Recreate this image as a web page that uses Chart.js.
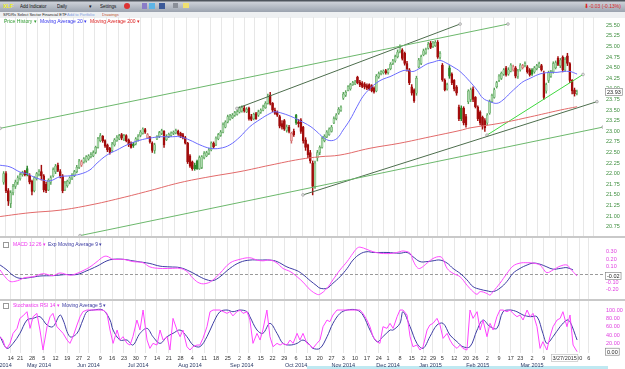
<!DOCTYPE html>
<html>
<head>
<meta charset="utf-8">
<script src="https://cdn.jsdelivr.net/npm/chart.js@4.4.1/dist/chart.umd.min.js"></script>
<style>
  body { margin:0; width:625px; height:369px; overflow:hidden; background:#fff; position:relative;
         font-family:"Liberation Sans", Arial, sans-serif; }
  .abs { position:absolute; white-space:nowrap; line-height:1; transform-origin:0 0; }
  .s4 { font-size:8px; transform:scale(0.5); }
  .s45 { font-size:9px; transform:scale(0.5); }
  .s5 { font-size:10px; transform:scale(0.5); }
  .s55 { font-size:11px; transform:scale(0.5); }
  #bar { left:0; top:0; width:625px; height:12px;
         background:linear-gradient(#4e545c 0, #4e545c 1px, #cdd1d8 2px, #9ba3af 12px); }
  #sub { left:0; top:12px; width:625px; height:6px; background:#eef0f2; }
  canvas { position:absolute; left:0; }
  .sep { left:0; width:625px; height:2px; background:#c9c9c9; }
  .xbox { width:4px; height:4px; border:0.5px solid #999; }
</style>
</head>
<body>
<div class="abs" id="bar"></div>
<div class="abs s55" style="left:3px;top:3px;font-weight:bold;color:#f2f21c">XLF</div>
<div class="abs s45" style="left:20px;top:3.5px;color:#111">Add Indicator</div>
<div class="abs s45" style="left:57px;top:3.5px;color:#111">Daily</div>
<div class="abs s45" style="left:89px;top:3.5px;color:#111">&#9662;</div>
<div class="abs s45" style="left:100px;top:3.5px;color:#111">Settings</div>
<div class="abs" style="left:124px;top:3px;width:6px;height:6px;border-radius:3px;background:#d33"></div>
<div class="abs" style="left:142px;top:3px;width:5px;height:6px;background:#8a7cc8"></div>
<div class="abs" style="left:149px;top:3px;width:6px;height:6px;background:#5db4e6"></div>
<div class="abs" style="left:159px;top:3px;width:6px;height:6px;background:#3b5998"></div>
<div class="abs" style="left:173px;top:3px;width:5px;height:5px;background:#8a8f98"></div>
<div class="abs" style="left:183px;top:3px;width:6px;height:5px;background:#efe070"></div>
<div class="abs s55" style="left:584px;top:3px;color:#d22">&#11015;</div>
<div class="abs s5" style="left:589px;top:3.5px;color:#d22">-0.03 (-0.13%)</div>
<div class="abs" id="sub"></div>
<div class="abs s4" style="left:3px;top:13px;color:#222">SPDRs Select Sector Financial ETF</div>
<div class="abs s4" style="left:67px;top:13px;color:#7f9fdf">Add to Portfolio</div>
<div class="abs s4" style="left:102px;top:13px;color:#c0502c">Drawings</div>

<canvas id="main" width="625" height="220" style="top:17px"></canvas>
<div class="abs sep" style="top:236px"></div>
<canvas id="macd" width="625" height="62" style="top:238px"></canvas>
<div class="abs sep" style="top:299px"></div>
<div class="abs" style="left:307px;top:366px;width:301px;height:3px;background:#bfe9f2"></div>
<canvas id="stoch" width="625" height="68" style="top:301px"></canvas>

<div class="abs s5" style="left:4px;top:19px;color:#2f9a2f">Price History &#9662;</div>
<div class="abs s5" style="left:40px;top:19px;color:#3535ee">Moving Average 20 &#9662;</div>
<div class="abs s5" style="left:90px;top:19px;color:#dd2222">Moving Average 200 &#9662;</div>
<div class="abs xbox" style="left:3px;top:241.5px"></div>
<div class="abs s5" style="left:13px;top:241.5px;color:#ee33ee">MACD 12 26 &#9662;</div>
<div class="abs s5" style="left:48px;top:241.5px;color:#3a3aa2">Exp Moving Average 9 &#9662;</div>
<div class="abs xbox" style="left:3px;top:303px"></div>
<div class="abs s5" style="left:13px;top:303px;color:#ee33ee">Stochastics RSI 14 &#9662;</div>
<div class="abs s5" style="left:62px;top:303px;color:#3a3aa2">Moving Average 5 &#9662;</div>

<script>
// trading-day index 0 = Mon 14 Apr 2014; candles run from day -3 to day 240 (27 Mar 2015)
var FIRST_DAY = -3;
var opens = [
  21.8,22.0,21.6,21.3,21.55,21.7,21.8,21.88,21.98,22.05,
  22.12,21.97,21.82,21.6,21.88,21.98,22.05,21.95,21.75,21.62,
  21.8,21.95,22.05,22.2,22.05,21.95,21.62,21.72,21.8,21.9,
  21.95,22.05,22.15,22.2,22.28,22.3,22.35,22.4,22.42,22.5,
  22.62,22.78,22.88,22.78,22.68,22.6,22.55,22.68,22.78,22.82,
  22.92,22.82,22.9,22.8,22.72,22.7,22.7,22.8,22.9,22.95,
  23.04,22.85,22.86,22.72,22.55,22.82,22.88,22.95,23.0,22.8,
  22.88,22.9,22.95,22.96,23.0,22.95,22.92,22.85,22.72,22.42,
  22.28,22.2,22.3,22.12,22.15,22.38,22.42,22.48,22.56,22.72,
  22.68,22.82,22.9,22.98,23.1,23.22,23.28,23.32,23.38,23.4,
  23.45,23.48,23.55,23.46,23.55,23.35,23.3,23.42,23.38,23.45,
  23.5,23.56,23.66,23.85,23.66,23.5,23.45,23.35,23.18,23.25,
  23.02,23.1,22.78,23.0,23.38,23.22,23.27,23.1,22.8,22.68,
  22.5,22.25,21.7,22.37,22.5,22.62,22.78,22.87,22.92,23.0,
  23.2,23.3,23.43,23.5,23.78,23.85,23.97,24.0,24.1,24.12,
  24.28,24.16,24.14,24.12,24.08,24.1,24.08,24.02,23.95,24.28,
  24.36,24.38,24.43,24.38,24.48,24.6,24.66,24.76,24.88,24.92,
  24.84,24.6,24.45,24.05,23.98,23.9,24.52,24.6,24.8,24.85,
  24.96,25.08,25.0,25.02,25.1,24.75,24.56,24.2,24.0,24.5,
  24.35,24.2,24.05,23.57,23.55,23.55,23.35,23.7,23.75,24.0,
  23.8,23.57,23.45,23.33,23.25,23.2,23.43,23.7,23.8,24.05,
  24.2,24.25,24.35,24.5,24.35,24.42,24.45,24.5,24.3,24.45,
  24.5,24.55,24.52,24.45,24.45,24.4,24.48,24.52,24.55,24.37,
  23.95,24.2,24.3,24.4,24.5,24.72,24.55,24.75,24.45,24.78,
  24.6,24.2,23.98,23.9
];
var highs = [
  22.05,22.05,21.65,21.6,21.75,21.85,21.95,22.02,22.06,22.08,
  22.18,22.0,21.85,21.93,22.03,22.1,22.2,21.98,21.8,21.88,
  21.95,22.14,22.22,22.25,22.1,21.98,21.82,21.85,21.93,22.0,
  22.08,22.2,22.34,22.32,22.38,22.43,22.45,22.5,22.54,22.65,
  22.86,22.95,22.9,22.8,22.7,22.62,22.74,22.83,22.9,22.93,
  22.95,22.93,22.92,22.82,22.75,22.74,22.85,22.92,23.02,23.08,
  23.07,22.95,22.88,22.75,22.72,22.9,23.0,23.05,23.02,22.92,
  22.96,22.99,23.01,23.05,23.03,22.98,22.95,22.88,22.74,22.45,
  22.3,22.25,22.32,22.42,22.43,22.52,22.53,22.6,22.75,22.75,
  22.87,22.95,23.02,23.2,23.25,23.38,23.4,23.42,23.47,23.5,
  23.58,23.6,23.6,23.56,23.57,23.4,23.43,23.45,23.5,23.53,
  23.62,23.7,23.88,23.92,23.68,23.55,23.48,23.38,23.25,23.28,
  23.15,23.14,22.98,23.05,23.4,23.28,23.3,23.12,22.85,22.7,
  22.55,22.3,22.3,22.55,22.66,22.87,22.92,23.02,23.08,23.14,
  23.34,23.42,23.56,23.6,23.92,23.96,24.08,24.13,24.18,24.2,
  24.3,24.2,24.17,24.15,24.12,24.12,24.1,24.05,24.34,24.4,
  24.43,24.45,24.46,24.48,24.62,24.7,24.8,24.92,25.04,24.95,
  24.87,24.65,24.48,24.1,24.0,24.3,24.72,24.8,24.94,24.96,
  25.1,25.12,25.12,25.14,25.14,24.88,24.6,24.24,24.14,24.55,
  24.38,24.22,24.08,23.62,23.6,23.58,23.4,23.98,24.02,24.05,
  23.82,23.6,23.48,23.36,23.3,23.42,23.74,23.88,24.02,24.18,
  24.34,24.4,24.48,24.53,24.5,24.6,24.56,24.53,24.46,24.6,
  24.58,24.64,24.55,24.48,24.48,24.53,24.58,24.63,24.58,24.42,
  24.14,24.42,24.44,24.64,24.66,24.76,24.72,24.78,24.74,24.84,
  24.62,24.22,24.02,23.97
];
var lows = [
  21.75,21.55,21.25,21.2,21.5,21.65,21.75,21.85,21.94,21.95,
  21.95,21.76,21.5,21.57,21.85,21.95,21.85,21.57,21.55,21.6,
  21.75,21.92,22.0,22.05,21.9,21.55,21.6,21.68,21.76,21.86,
  21.93,22.02,22.12,22.17,22.25,22.27,22.32,22.37,22.4,22.47,
  22.6,22.75,22.74,22.62,22.52,22.46,22.52,22.65,22.76,22.8,
  22.8,22.78,22.75,22.64,22.6,22.62,22.68,22.77,22.87,22.93,
  22.95,22.83,22.72,22.5,22.48,22.8,22.85,22.92,22.62,22.78,
  22.85,22.88,22.92,22.94,22.9,22.85,22.82,22.7,22.24,22.15,
  22.08,22.08,22.1,22.1,22.12,22.35,22.4,22.45,22.54,22.6,
  22.66,22.8,22.88,22.96,23.08,23.2,23.26,23.3,23.35,23.38,
  23.43,23.45,23.45,23.44,23.26,23.25,23.27,23.28,23.35,23.42,
  23.48,23.54,23.64,23.62,23.46,23.4,23.35,23.08,23.05,23.02,
  22.98,22.96,22.72,22.88,23.16,23.1,22.95,22.72,22.55,22.38,
  22.25,21.5,21.65,22.3,22.45,22.6,22.75,22.85,22.9,22.98,
  23.18,23.27,23.4,23.47,23.75,23.82,23.95,23.97,24.08,24.1,
  24.12,24.05,24.03,24.0,23.98,23.97,23.93,23.9,23.93,24.25,
  24.33,24.35,24.35,24.35,24.45,24.57,24.63,24.73,24.85,24.68,
  24.56,24.42,24.1,23.85,23.68,23.85,24.5,24.57,24.78,24.82,
  24.94,24.95,24.97,25.0,24.72,24.7,24.18,23.95,23.97,24.25,
  24.1,23.95,23.85,23.25,23.25,23.15,23.1,23.65,23.7,23.7,
  23.55,23.25,23.15,23.05,23.0,23.15,23.4,23.68,23.78,24.02,
  24.17,24.22,24.32,24.3,24.32,24.4,24.42,24.26,24.25,24.42,
  24.47,24.52,24.37,24.3,24.32,24.37,24.45,24.5,24.42,23.75,
  23.9,24.15,24.27,24.37,24.47,24.55,24.5,24.4,24.42,24.55,
  24.15,23.88,23.83,23.86
];
var closes = [
  22.0,21.6,21.35,21.55,21.7,21.8,21.9,21.98,22.02,21.98,
  21.98,21.8,21.58,21.9,22.0,22.05,21.95,21.62,21.6,21.85,
  21.9,22.1,22.18,22.08,21.95,21.6,21.78,21.82,21.9,21.97,
  22.05,22.15,22.3,22.28,22.35,22.4,22.42,22.45,22.5,22.62,
  22.82,22.9,22.78,22.65,22.56,22.5,22.7,22.8,22.86,22.9,
  22.84,22.9,22.78,22.68,22.62,22.66,22.82,22.88,22.98,23.05,
  22.98,22.92,22.75,22.55,22.68,22.88,22.97,23.02,22.68,22.88,
  22.93,22.96,22.98,23.02,22.93,22.88,22.85,22.72,22.28,22.18,
  22.12,22.12,22.12,22.38,22.4,22.48,22.5,22.56,22.72,22.64,
  22.84,22.92,22.98,23.15,23.22,23.35,23.36,23.38,23.44,23.46,
  23.55,23.56,23.48,23.52,23.3,23.28,23.4,23.3,23.46,23.5,
  23.58,23.66,23.82,23.66,23.5,23.42,23.38,23.12,23.1,23.05,
  23.1,23.0,22.95,22.92,23.2,23.18,23.0,22.78,22.62,22.45,
  22.3,21.7,22.25,22.5,22.62,22.82,22.88,22.98,23.05,23.1,
  23.3,23.38,23.52,23.57,23.88,23.92,24.05,24.1,24.15,24.16,
  24.15,24.1,24.06,24.04,24.02,24.0,23.96,23.93,24.3,24.36,
  24.4,24.42,24.38,24.45,24.58,24.66,24.76,24.87,24.98,24.72,
  24.6,24.48,24.15,23.9,23.72,24.25,24.68,24.76,24.9,24.92,
  25.05,24.98,25.08,25.1,24.75,24.84,24.22,23.98,24.1,24.3,
  24.15,24.0,23.9,23.3,23.3,23.2,23.15,23.95,23.98,23.75,
  23.58,23.3,23.2,23.12,23.08,23.38,23.7,23.85,23.98,24.15,
  24.3,24.37,24.45,24.33,24.45,24.56,24.52,24.3,24.42,24.56,
  24.55,24.6,24.4,24.33,24.35,24.5,24.55,24.6,24.45,23.8,
  24.1,24.38,24.4,24.6,24.62,24.58,24.68,24.45,24.7,24.6,
  24.2,23.95,23.88,23.93
];

var ma20Days = [-4.5,-0.3,3.9,6.9,9.5,13.7,16.7,20.9,25.1,29.4,33.6,36.6,40.8,45.1,49.3,54.8,59.0,63.3,67.5,71.8,
  76.0,80.2,84.5,88.7,92.9,97.2,101.4,105.7,109.9,112.0,115.4,119.7,122.6,126.9,129.8,132.4,135.3,138.3,140.9,143.8,
  146.8,149.3,152.3,155.3,157.8,160.8,163.8,166.3,168.0,170.5,173.5,176.5,179.0,182.0,185.0,187.5,190.5,194.7,197.7,200.2,
  203.2,206.1,208.7,211.7,214.6,217.2,220.2,223.2,225.6,228.6,231.6,234.1,237.1,240.1];
var ma20Vals = [22.2,22.16,22.04,22.0,21.93,21.85,21.83,21.93,21.95,21.99,22.09,22.25,22.44,22.56,22.68,22.79,22.84,22.87,22.87,22.87,
  22.79,22.68,22.6,22.6,22.68,22.87,23.11,23.28,23.42,23.46,23.42,23.33,23.25,23.12,22.99,22.86,22.78,22.83,23.03,23.27,
  23.58,23.82,24.01,24.15,24.23,24.29,24.37,24.43,24.44,24.41,24.49,24.59,24.63,24.67,24.6,24.52,24.41,24.17,23.97,23.78,
  23.7,23.66,23.74,23.9,24.05,24.17,24.25,24.33,24.37,24.39,24.39,24.41,24.41,24.35];
var ma200Days = [-4.5,8.2,20.9,33.6,46.3,59.0,71.8,84.5,97.2,109.9,122.6,131.1,139.6,152.3,165.0,177.8,190.5,194.7,207.4,220.2,232.9,240.1];
var ma200Vals = [20.99,21.08,21.14,21.26,21.42,21.6,21.79,21.93,22.05,22.2,22.34,22.4,22.44,22.6,22.72,22.87,23.02,23.08,23.19,23.34,23.5,23.58];

// hand-drawn trend lines: [start day, end day] and [start price, end price]
var upperChannelDays = [-4.5, 210.8], upperChannelPrices = [23.07, 25.53];
var lowerChannelDays = [29.4, 251.1], lowerChannelPrices = [20.54, 23.1];
var upperTrendDays = [95.9, 190.5], upperTrendPrices = [23.54, 25.53];
var lowerTrendDays = [123.9, 248.5], lowerTrendPrices = [21.5, 23.7];
var recentTrendDays = [201.9, 242.6], recentTrendPrices = [22.91, 24.34];

var macdDays = [-4.5,-2.4,-0.3,1.8,3.9,6.1,9.5,13.7,17.9,20.9,25.1,28.1,30.6,33.6,36.6,39.1,40.8,43.4,47.6,51.8,
  56.1,59.0,63.3,67.5,71.8,74.7,77.3,80.2,83.2,85.8,88.7,92.9,97.2,101.4,104.4,106.9,109.9,112.9,115.4,118.4,
  121.4,123.9,126.9,129.8,131.1,134.1,136.6,139.6,142.6,145.1,146.8,148.1,151.0,153.6,156.5,159.5,162.1,165.0,166.3,169.3,
  170.5,172.2,173.5,176.5,179.0,182.0,183.3,185.0,187.5,190.5,193.4,196.0,197.7,199.0,201.9,203.2,204.5,207.4,210.4,212.9,
  215.9,218.9,221.4,224.4,225.6,227.3,229.9,232.9,235.8,237.1,240.1];
var macdVals = [0.06,-0.03,-0.09,-0.09,-0.07,-0.04,-0.03,0.01,-0.015,0.02,-0.01,0.015,0.05,0.1,0.17,0.23,0.24,0.2,0.2,0.17,
  0.155,0.1,0.08,0.08,0.08,0.04,-0.05,-0.115,-0.115,-0.07,0.015,0.15,0.2,0.22,0.19,0.18,0.19,0.15,0.08,0.04,
  -0.03,-0.1,-0.2,-0.26,-0.26,-0.18,-0.07,0.06,0.17,0.28,0.345,0.36,0.33,0.3,0.28,0.275,0.28,0.3,0.31,0.28,
  0.19,0.095,0.08,0.15,0.21,0.235,0.2,0.08,0.015,-0.03,-0.14,-0.225,-0.26,-0.225,-0.25,-0.27,-0.225,-0.115,0.015,0.11,
  0.15,0.155,0.15,0.125,0.08,0.025,0.06,0.11,0.125,0.08,-0.02];
var signalDays = [-4.5,-1.6,0.9,3.9,8.2,12.4,17.9,23.9,28.1,32.3,36.6,40.8,43.4,47.6,51.8,56.1,59.0,63.3,67.5,71.8,
  76.0,80.2,83.2,85.8,88.7,92.9,97.2,101.4,105.7,109.9,112.9,117.1,121.4,123.9,126.9,129.8,131.1,134.1,136.6,139.6,
  142.6,145.1,148.1,151.0,153.6,159.5,165.0,168.0,170.5,173.5,176.5,179.0,182.0,185.0,187.5,190.5,193.4,196.0,199.0,201.9,
  204.5,207.4,210.4,212.9,215.9,218.9,221.4,224.4,227.3,229.9,232.9,235.8,238.4];
var signalVals = [0.125,0.06,-0.01,-0.05,-0.04,-0.02,-0.015,0,0,0.05,0.11,0.18,0.2,0.2,0.18,0.16,0.145,0.11,0.1,0.09,
  0.04,-0.03,-0.07,-0.08,-0.03,0.08,0.16,0.19,0.19,0.19,0.17,0.1,0.05,0.0,-0.08,-0.15,-0.18,-0.18,-0.115,-0.03,
  0.08,0.19,0.27,0.3,0.29,0.29,0.28,0.29,0.235,0.17,0.17,0.18,0.19,0.15,0.08,0.015,-0.07,-0.16,-0.195,-0.215,
  -0.225,-0.18,-0.09,0.015,0.08,0.125,0.15,0.135,0.1,0.07,0.08,0.09,0.06];
var macdZero = [0, 0];

var stochDays = [-4.5,-3.3,-2.4,-1.6,-0.3,1.0,2.7,3.9,5.2,6.9,8.2,9.5,11.1,12.4,13.7,15.4,16.7,17.9,19.6,20.9,
  22.2,23.9,25.1,26.4,28.1,29.4,30.6,32.3,33.6,36.6,39.1,40.8,42.1,43.4,45.1,46.3,47.6,49.3,50.6,51.8,
  53.5,54.8,56.1,57.8,59.0,60.3,62.0,63.3,64.6,66.3,67.5,68.8,70.5,71.8,73.0,74.7,76.0,77.3,79.0,80.2,
  81.5,83.2,84.5,85.8,88.7,91.7,92.9,94.2,95.9,97.2,98.5,100.2,101.4,102.7,104.4,105.7,106.9,108.6,109.9,111.2,
  112.9,114.2,115.4,117.1,118.4,119.7,121.4,122.6,123.9,125.6,126.9,128.1,129.8,131.1,132.4,134.1,135.3,136.6,138.3,148.1,
  149.3,151.0,152.3,153.6,155.3,156.5,157.8,159.5,160.8,162.1,163.8,165.0,166.3,168.0,169.3,170.5,172.2,173.5,174.8,176.5,
  177.7,179.0,180.7,182.0,183.3,185.0,186.2,187.5,189.2,190.5,191.7,193.4,194.7,196.0,197.7,199.0,200.2,201.9,203.2,204.5,
  206.1,207.4,208.7,210.4,211.7,212.9,214.6,215.9,217.2,218.9,220.2,221.4,223.1,224.4,225.6,227.3,228.6,229.9,231.6,232.9,
  234.1,235.8,237.1,238.4,240.1];
var stochK = [36,28,12,8,20,44,56,80,86,96,56,84,92,52,4,60,84,92,60,52,
  44,28,20,36,64,84,96,100,100,100,100,92,52,20,52,28,36,20,16,36,
  76,52,100,28,8,20,16,52,28,36,4,80,52,36,52,12,4,12,16,16,
  32,60,96,100,100,92,96,86,96,100,92,96,76,20,44,28,52,100,36,12,
  20,16,20,16,28,20,44,28,44,20,16,8,20,28,60,76,72,88,100,100,
  92,76,60,36,24,20,60,56,68,56,84,100,100,88,36,12,16,4,12,52,
  64,68,80,64,32,44,28,16,8,16,8,4,100,80,96,52,76,36,68,52,
  84,100,100,96,100,92,84,88,76,100,84,92,60,8,24,4,36,60,76,80,
  96,60,88,16,0];
var stochMaDays = [-4.5,-1.6,1.0,3.9,6.9,9.5,12.4,15.4,17.9,20.9,22.2,25.1,28.1,30.6,32.3,35.0,39.1,42.1,43.4,46.3,
  49.3,51.8,54.8,57.8,60.3,63.3,66.3,68.8,71.8,74.7,77.3,80.2,83.2,85.8,88.7,91.7,94.2,97.2,100.2,101.4,
  104.4,106.9,109.9,112.9,115.4,118.4,121.4,123.9,126.9,128.1,131.1,134.1,136.6,139.6,142.6,146.8,149.3,152.3,155.3,157.8,
  160.8,162.1,165.0,166.3,169.3,172.2,174.8,177.7,180.7,183.3,186.2,189.2,191.7,194.7,197.7,200.2,203.2,206.1,208.7,211.7,
  214.6,217.2,220.2,223.1,225.6,227.3,229.9,232.9,235.8,237.1,240.1];
var stochMa = [36,8,20,44,76,80,84,64,60,88,76,36,44,76,96,100,100,76,52,28,
  28,16,44,56,36,20,36,44,52,36,16,12,36,68,96,100,96,100,96,84,
  52,44,68,44,20,16,20,28,16,8,8,36,68,92,100,100,88,52,24,36,
  52,52,68,96,60,20,8,36,64,68,40,24,12,12,52,76,60,56,96,100,
  96,88,84,84,44,20,36,60,76,72,28];

// weekly ticks (first trading day of each week) and month labels
var tickDays = [0,4,9,14,19,24,29,33,38,43,48,53,57,62,67,72,77,82,87,92,97,101,106,111,116,121,126,131,136,141,146,151,156,160,165,170,175,179,183,188,193,197,202,207,212,216,221,226,231,236,241,245];
var tickLabels = ['14','21','28','5','12','19','27','2','9','16','23','30','7','14','21','28','4','11','18','25','2','8','15','22','29','6','13','20','27','3','10','17','24','1','8','15','22','29','5','12','20','26','2','9','17','23','2','9','16','23','30','6'];
var monthDays = [-4.3,12,33,54,76,98,121,141,160,178,198,221];
var monthLabels = ['Apr 2014','May 2014','Jun 2014','Jul 2014','Aug 2014','Sep 2014','Oct 2014','Nov 2014','Dec 2014','Jan 2015','Feb 2015','Mar 2015'];
var lastDateLabel = '3/27/2015';

var priceTicks = [20.75,21.00,21.25,21.50,21.75,22.00,22.25,22.50,22.75,23.00,23.25,23.50,23.75,24.00,24.25,24.50,24.75,25.00,25.25,25.50];
var macdTicks = [-0.2,-0.1,0,0.1,0.2,0.3];
var stochTicks = [0,20,40,60,80,100];

var X_MIN = -4.54, X_MAX = 251.08;
var FONT = '"Liberation Sans", Arial, sans-serif';
Chart.defaults.font.family = FONT;
Chart.defaults.animation = false;
Chart.defaults.plugins.legend.display = false;
Chart.defaults.plugins.tooltip.enabled = false;

function pts(xs, ys) { return xs.map(function (x, i) { return {x: x, y: ys[i]}; }); }

var days = closes.map(function (_, i) { return FIRST_DAY + i; });
var bodies = days.map(function (d, i) { return {x: d, y: [opens[i], closes[i]]}; });
var wicks = days.map(function (d, i) { return {x: d, y: [lows[i], highs[i]]}; });
var fills = [], edges = [];
closes.forEach(function (c, i) {
  var prev = i ? closes[i - 1] : opens[i];
  var hollow = c >= opens[i];
  if (c >= prev) { fills.push(hollow ? '#add9ad' : '#2f8a2f'); edges.push(hollow ? '#5aa45a' : '#2f8a2f'); }
  else { fills.push(hollow ? '#f0b4b4' : '#a30c0c'); edges.push(hollow ? '#d36a6a' : '#a30c0c'); }
});

// no automatic padding around the plot: the pixel grid must line up with the panel layout
function noPad(a) { a.paddingTop = 0; a.paddingBottom = 0; a.paddingLeft = 0; a.paddingRight = 0; }
function xScale(h) {
  return {type: 'linear', min: X_MIN, max: X_MAX, offset: false,
    afterBuildTicks: function (a) { a.ticks = tickDays.map(function (v) { return {value: v}; }); },
    afterFit: function (a) { a.height = h; noPad(a); },
    ticks: {display: false}, grid: {color: '#e7e7e7', lineWidth: 1, drawTicks: false}, border: {display: false}};
}
function yScale(min, max, ticks, color) {
  return {position: 'right', min: min, max: max,
    afterBuildTicks: function (a) { a.ticks = ticks.map(function (v) { return {value: v}; }); },
    afterFit: function (a) { a.width = 22; noPad(a); },
    ticks: {color: color, font: {size: 5.5}, padding: 3, autoSkip: false,
      callback: function (v) { return Number(v).toFixed(2); }},
    grid: {display: false, drawTicks: false}, border: {display: false}};
}
function line(data, color, extra) {
  var d = {type: 'line', data: data, borderColor: color, borderWidth: 1, pointRadius: 0, pointHoverRadius: 0,
    pointHitRadius: 0, fill: false, order: 0};
  for (var k in extra) d[k] = extra[k];
  return d;
}
var trendPoint = {pointRadius: 1.4, pointBackgroundColor: '#dddddd', pointBorderColor: '#888', pointBorderWidth: 0.5};
var LAYOUT = {padding: 0, autoPadding: false};

var valueBox = {
  id: 'valueBox',
  afterDraw: function (chart, args, opts) {
    var ctx = chart.ctx, area = chart.chartArea, py = chart.scales.y.getPixelForValue(opts.value);
    var text = opts.value.toFixed(2);
    ctx.save();
    ctx.font = '5.5px ' + FONT;
    var w = ctx.measureText(text).width + 3;
    var x0 = area.right + 2;
    ctx.fillStyle = '#fff'; ctx.fillRect(x0, py - 4, w, 8);
    ctx.strokeStyle = '#777'; ctx.lineWidth = 0.6; ctx.strokeRect(x0 + 0.5, py - 3.5, w, 7);
    ctx.fillStyle = '#222'; ctx.textBaseline = 'middle'; ctx.fillText(text, x0 + 2, py + 0.3);
    ctx.restore();
  }
};

var dateAxis = {
  id: 'dateAxis',
  afterDraw: function (chart) {
    var ctx = chart.ctx, area = chart.chartArea, x = chart.scales.x;
    ctx.save();
    ctx.font = '5.5px ' + FONT;
    ctx.textAlign = 'center'; ctx.textBaseline = 'middle';
    ctx.fillStyle = '#333';
    tickDays.forEach(function (d, i) { ctx.fillText(tickLabels[i], x.getPixelForValue(d), area.bottom + 5); });
    ctx.fillStyle = '#2b3a66';
    monthDays.forEach(function (d, i) { ctx.fillText(monthLabels[i], x.getPixelForValue(d), area.bottom + 12); });
    var right = x.getPixelForValue(days[days.length - 1]) + 1.5;
    var w = ctx.measureText(lastDateLabel).width + 3;
    ctx.fillStyle = '#fff'; ctx.fillRect(right - w, area.bottom + 1, w, 8);
    ctx.strokeStyle = '#aaa'; ctx.lineWidth = 0.5; ctx.strokeRect(right - w + 0.5, area.bottom + 1.5, w - 1, 7);
    ctx.fillStyle = '#333'; ctx.textAlign = 'right'; ctx.fillText(lastDateLabel, right - 1.5, area.bottom + 5);
    ctx.restore();
  }
};

new Chart(document.getElementById('main'), {
  type: 'bar',
  data: {datasets: [
    line(pts(ma20Days, ma20Vals), '#6b6bff', {tension: 0.4}),
    line(pts(ma200Days, ma200Vals), '#e26a6a', {tension: 0.4}),
    line(pts(upperChannelDays, upperChannelPrices), '#6cb86c', trendPoint),
    line(pts(lowerChannelDays, lowerChannelPrices), '#6cb86c', trendPoint),
    line(pts(upperTrendDays, upperTrendPrices), '#4d6e4d', trendPoint),
    line(pts(lowerTrendDays, lowerTrendPrices), '#4d6e4d', trendPoint),
    line(pts(recentTrendDays, recentTrendPrices), '#3fd83f', trendPoint),
    {type: 'bar', data: bodies, backgroundColor: fills, borderColor: edges, borderWidth: 0.5, borderSkipped: false,
      barThickness: 2, minBarLength: 1, grouped: false, order: 1},
    {type: 'bar', data: wicks, backgroundColor: edges, borderWidth: 0, barThickness: 0.8, grouped: false, order: 2}
  ]},
  options: {responsive: false, devicePixelRatio: 1, layout: LAYOUT,
    scales: {x: xScale(0), y: yScale(20.507, 25.696, priceTicks, '#3f8f3f')},
    plugins: {valueBox: {value: closes[closes.length - 1]}}},
  plugins: [valueBox]
});

new Chart(document.getElementById('macd'), {
  type: 'line',
  data: {datasets: [
    line(pts([X_MIN, X_MAX], macdZero), '#9a9a9a', {borderDash: [3, 2], order: 2}),
    line(pts(signalDays, signalVals), '#3d3da3', {tension: 0.4, order: 1}),
    line(pts(macdDays, macdVals), '#ff4cff', {tension: 0.4})
  ]},
  options: {responsive: false, devicePixelRatio: 1, layout: LAYOUT,
    scales: {x: xScale(0), y: yScale(-0.3355, 0.4803, macdTicks, '#e040e0')},
    plugins: {valueBox: {value: macdVals[macdVals.length - 1]}}},
  plugins: [valueBox]
});

new Chart(document.getElementById('stoch'), {
  type: 'line',
  data: {datasets: [
    line(pts(stochMaDays, stochMa), '#3d3da3', {tension: 0.35, order: 1}),
    line(pts(stochDays, stochK), '#ff44ff', {tension: 0})
  ]},
  options: {responsive: false, devicePixelRatio: 1, layout: LAYOUT,
    scales: {x: xScale(16), y: yScale(-3.12, 121.67, stochTicks, '#e040e0')},
    plugins: {valueBox: {value: stochK[stochK.length - 1]}}},
  plugins: [valueBox, dateAxis]
});
</script>
</body>
</html>
